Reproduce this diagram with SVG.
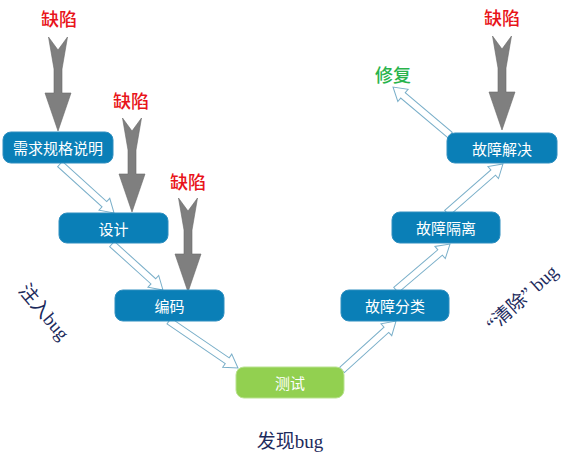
<svg xmlns="http://www.w3.org/2000/svg" width="580" height="463" viewBox="0 0 580 463">
<style>
.node rect{fill:#0a7fb7;stroke:#2f8fc0;stroke-width:1}
.node text{fill:#ffffff;font-family:"Noto Sans CJK SC",sans-serif;font-size:15px;text-anchor:middle;dominant-baseline:central}
.test rect{fill:#92d050;stroke:#b9e290}
.defect{fill:#e8141a;font-family:"Noto Sans CJK SC",sans-serif;font-size:18px;font-weight:500;text-anchor:middle;dominant-baseline:central}
.fix{fill:#28b34b;font-family:"Noto Sans CJK SC",sans-serif;font-size:18px;font-weight:500;text-anchor:middle;dominant-baseline:central}
.label{fill:#1c2a5c;font-family:"Liberation Serif","Noto Sans CJK SC",serif;font-size:19px;text-anchor:middle;dominant-baseline:central}
.hollow{fill:#ffffff;stroke:#7aafc9;stroke-width:1}
.gray{fill:#7f7f7f;stroke:#6a6a6a;stroke-width:0.6}
</style>
<defs>
<path id="grayArrow" class="gray" d="M-9.5,0 L0,13 L9.5,0 L4,32 L4,56 L13,56 L0,94 L-13,56 L-4,56 L-4,32 Z"/>
</defs>
<rect width="580" height="463" fill="#ffffff"/>

<g id="connectors">
<path class="hollow" transform="translate(60,164) rotate(42.2)" d="M0,-3.5 L59.9,-3.5 L59.9,-8 L72.9,0 L59.9,8 L59.9,3.5 L0,3.5 Z"/>
<path class="hollow" transform="translate(112,244) rotate(42.1)" d="M0,-3.5 L55.7,-3.5 L55.7,-8 L68.7,0 L55.7,8 L55.7,3.5 L0,3.5 Z"/>
<path class="hollow" transform="translate(169,321) rotate(34.3)" d="M0,-3.5 L70.5,-3.5 L70.5,-8 L83.5,0 L70.5,8 L70.5,3.5 L0,3.5 Z"/>
<path class="hollow" transform="translate(342,370) rotate(-42.2)" d="M0,-3.5 L59.9,-3.5 L59.9,-8 L72.9,0 L59.9,8 L59.9,3.5 L0,3.5 Z"/>
<path class="hollow" transform="translate(396,290) rotate(-40.4)" d="M0,-3.5 L57.9,-3.5 L57.9,-8 L70.9,0 L57.9,8 L57.9,3.5 L0,3.5 Z"/>
<path class="hollow" transform="translate(447,213) rotate(-41.2)" d="M0,-3.5 L61.4,-3.5 L61.4,-8 L74.4,0 L61.4,8 L61.4,3.5 L0,3.5 Z"/>
<path class="hollow" transform="translate(450,135) rotate(-139.9)" d="M0,-3.5 L61.5,-3.5 L61.5,-8 L74.5,0 L61.5,8 L61.5,3.5 L0,3.5 Z"/>
<use href="#grayArrow" transform="translate(58,37)"/>
<use href="#grayArrow" transform="translate(132,118)"/>
<use href="#grayArrow" transform="translate(188,198)"/>
<use href="#grayArrow" transform="translate(502,36)"/>
</g>

<g id="n-req" class="node"><rect x="3" y="132" width="110" height="31" rx="8"/><text x="58" y="147.5">需求规格说明</text></g>
<g id="n-design" class="node"><rect x="59" y="213" width="109" height="30" rx="8"/><text x="113.5" y="228">设计</text></g>
<g id="n-code" class="node"><rect x="115" y="290" width="109" height="31" rx="8"/><text x="169.5" y="305.5">编码</text></g>
<g id="n-test" class="node test"><rect x="236" y="367" width="108" height="31" rx="8"/><text x="290" y="382.5">测试</text></g>
<g id="n-classify" class="node"><rect x="341" y="290" width="108" height="31" rx="8"/><text x="395" y="305.5">故障分类</text></g>
<g id="n-isolate" class="node"><rect x="392" y="212" width="108" height="31" rx="8"/><text x="446" y="227.5">故障隔离</text></g>
<g id="n-resolve" class="node"><rect x="447" y="133" width="110" height="30" rx="8"/><text x="502" y="148">故障解决</text></g>

<g id="t-defect1"><text class="defect" x="59" y="18">缺陷</text></g>
<g id="t-defect2"><text class="defect" x="131" y="100">缺陷</text></g>
<g id="t-defect3"><text class="defect" x="188" y="181">缺陷</text></g>
<g id="t-defect4"><text class="defect" x="502" y="17">缺陷</text></g>
<g id="t-fix"><text class="fix" x="393" y="74">修复</text></g>

<g id="t-inject"><text class="label" transform="translate(44,312) rotate(50)">注入bug</text></g>
<g id="t-clear"><text class="label" transform="translate(522,298) rotate(-42)">“清除” bug</text></g>
<g id="t-find"><text class="label" x="290" y="441">发现bug</text></g>
</svg>
